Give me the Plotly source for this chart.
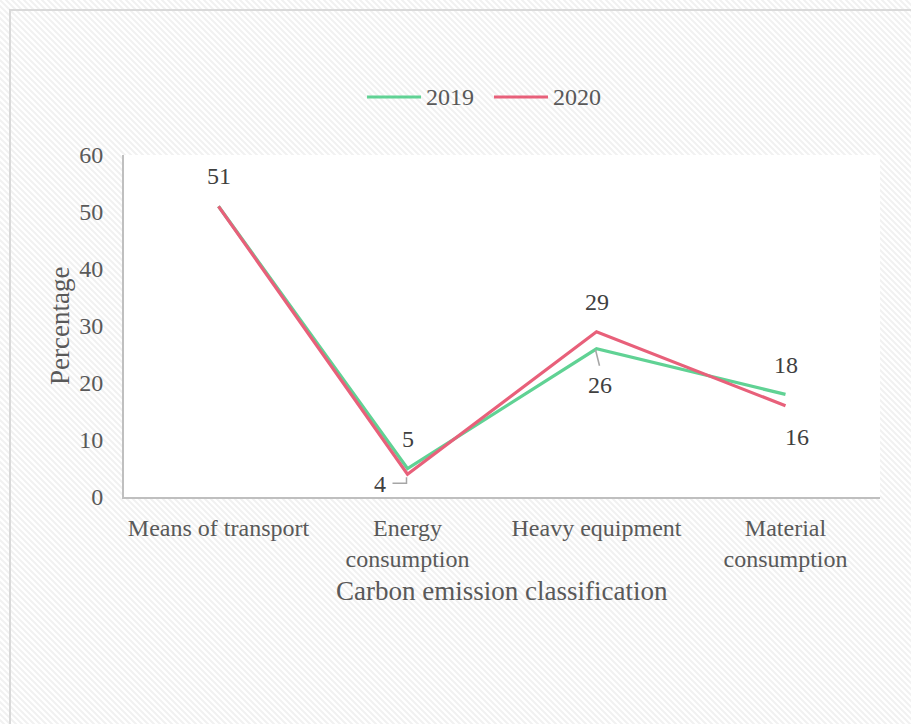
import base64
import plotly.graph_objects as go

# ---- data ----
categories = ["Means of transport", "Energy consumption", "Heavy equipment", "Material consumption"]
tick_labels = ["Means of transport", "Energy<br>consumption", "Heavy equipment", "Material<br>consumption"]
values_2019 = [51, 5, 26, 18]
values_2020 = [51, 4, 29, 16]
series_names = ["2019", "2020"]
y_ticks = [0, 10, 20, 30, 40, 50, 60]

# ---- style ----
GREEN = "#60d294"
RED = "#e8607a"
FONT = "Liberation Serif, Times New Roman, serif"
TICK_COLOR = "#595959"
LABEL_COLOR = "#404040"

W, H = 911, 724
L, R, T, B = 124, 31, 155, 227
PW, PH = W - L - R, H - T - B


def px_to_paper_x(px):
    return (px - L) / PW


def px_to_paper_y(py):
    return (H - B - py) / PH


fig = go.Figure()
fig.add_trace(go.Scatter(x=categories, y=values_2019, mode="lines", name=series_names[0],
                         line=dict(color=GREEN, width=3.2), showlegend=False, hoverinfo="skip"))
fig.add_trace(go.Scatter(x=categories, y=values_2020, mode="lines", name=series_names[1],
                         line=dict(color=RED, width=3.2), showlegend=False, hoverinfo="skip"))

# data labels (offset in pixels; None = hidden)
offsets_2019 = [None, (0, 30), (3, -36), (0, 29)]
offsets_2020 = [(0, 30), (-28, -10), (0, 30), (11, -31)]
annotations = []
for vals, offs in ((values_2019, offsets_2019), (values_2020, offsets_2020)):
    for i, (c, v) in enumerate(zip(categories, vals)):
        if offs[i] is None:
            continue
        annotations.append(dict(x=c, y=v, xref="x", yref="y", text=str(v), showarrow=False,
                                xshift=offs[i][0], yshift=offs[i][1],
                                font=dict(family=FONT, size=24, color=LABEL_COLOR)))

# axis titles
annotations.append(dict(x=0.5, y=px_to_paper_y(591), xref="paper", yref="paper",
                        text="Carbon emission classification", showarrow=False,
                        xanchor="center", yanchor="middle",
                        font=dict(family=FONT, size=27, color=TICK_COLOR)))
annotations.append(dict(x=px_to_paper_x(60), y=px_to_paper_y(326), xref="paper", yref="paper",
                        text="Percentage", showarrow=False, textangle=-90,
                        xanchor="center", yanchor="middle",
                        font=dict(family=FONT, size=27, color=TICK_COLOR)))

# manual legend
shapes = []
legend_items = [(series_names[0], GREEN, 367, 421, 424), (series_names[1], RED, 494, 548, 551)]
for name, col, x0, x1, xt in legend_items:
    shapes.append(dict(type="line", xref="paper", yref="paper",
                       x0=px_to_paper_x(x0), x1=px_to_paper_x(x1),
                       y0=px_to_paper_y(97), y1=px_to_paper_y(97),
                       line=dict(color=col, width=3.2)))
    annotations.append(dict(x=px_to_paper_x(xt), y=px_to_paper_y(97), xref="paper", yref="paper",
                            text=name, showarrow=False, xanchor="left", yanchor="middle",
                            font=dict(family=FONT, size=24, color=TICK_COLOR)))

# white plot area over the hatched background
shapes.append(dict(type="rect", xref="paper", yref="paper", x0=0, x1=1, y0=0, y1=1,
                   fillcolor="white", line=dict(width=0), layer="below"))
# outer border
shapes.append(dict(type="rect", xref="paper", yref="paper",
                   x0=px_to_paper_x(10), x1=px_to_paper_x(915),
                   y0=px_to_paper_y(730), y1=px_to_paper_y(10),
                   line=dict(color="#d9d9d9", width=2), fillcolor="rgba(0,0,0,0)", layer="above"))

# leader lines
leader = dict(type="path", xref="x", yref="y", xsizemode="pixel", ysizemode="pixel",
              line=dict(color="#a6a6a6", width=1.5), layer="above")
shapes.append(dict(leader, xanchor=1, yanchor=values_2020[1], path="M -15,-9 L -1,-9 L -1,-3"))
shapes.append(dict(leader, xanchor=2, yanchor=values_2019[2], path="M -1,-1 L 3,-17"))

# hatched background image
svg = ('<svg xmlns="http://www.w3.org/2000/svg" width="911" height="724">'
       '<defs><pattern id="p" width="6" height="6" patternUnits="userSpaceOnUse">'
       '<path d="M-1,-1 L7,7 M-1,5 L1,7 M5,-1 L7,1" stroke="#f1f1f1" stroke-width="2"/>'
       '</pattern></defs><rect width="911" height="724" fill="#ffffff"/>'
       '<rect width="911" height="724" fill="url(#p)"/></svg>')
src = "data:image/svg+xml;base64," + base64.b64encode(svg.encode()).decode()

fig.update_layout(
    width=W, height=H,
    margin=dict(l=L, r=R, t=T, b=B, pad=0),
    paper_bgcolor="white", plot_bgcolor="white",
    showlegend=False,
    images=[dict(source=src, xref="paper", yref="paper",
                 x=px_to_paper_x(0), y=px_to_paper_y(0),
                 sizex=W / PW, sizey=H / PH, sizing="stretch",
                 xanchor="left", yanchor="top", layer="below")],
    shapes=shapes,
    annotations=annotations,
    xaxis=dict(type="category", range=[-0.5, 3.5], tickvals=categories, ticktext=tick_labels,
               showline=True, linecolor="#bfbfbf", linewidth=2, showgrid=False, zeroline=False,
               ticks="", ticklabelstandoff=8,
               tickfont=dict(family=FONT, size=24, color=TICK_COLOR)),
    yaxis=dict(range=[0, 60], tickvals=y_ticks, showline=True, linecolor="#bfbfbf", linewidth=2,
               showgrid=False, zeroline=False, ticks="", ticklabelstandoff=14,
               tickfont=dict(family=FONT, size=24, color=TICK_COLOR)),
)

fig.write_html("out.html")
